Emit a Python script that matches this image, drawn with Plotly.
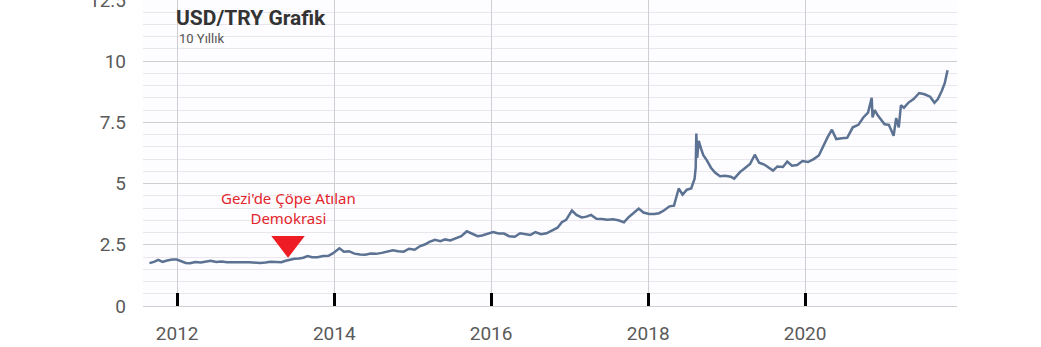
import plotly.graph_objects as go

dates = [
    "2011-08-25", "2011-09-15", "2011-10-05", "2011-10-25", "2011-11-15", "2011-12-10", "2011-12-30",
    "2012-01-20", "2012-02-10", "2012-03-01", "2012-03-25", "2012-04-20", "2012-05-15", "2012-06-05",
    "2012-07-01", "2012-07-25", "2012-08-20", "2012-09-15", "2012-10-10", "2012-11-05", "2012-12-01",
    "2012-12-25", "2013-01-20", "2013-02-15", "2013-03-10", "2013-04-05", "2013-04-30", "2013-05-20",
    "2013-06-10", "2013-06-30", "2013-07-20", "2013-08-10", "2013-08-30", "2013-09-20", "2013-10-15",
    "2013-11-10", "2013-12-05", "2013-12-25", "2014-01-25", "2014-02-15", "2014-03-10", "2014-04-05",
    "2014-05-01", "2014-05-25", "2014-06-20", "2014-07-15", "2014-08-10", "2014-09-05", "2014-10-01",
    "2014-10-25", "2014-11-20", "2014-12-15", "2015-01-10", "2015-02-05", "2015-03-01", "2015-03-20",
    "2015-04-15", "2015-05-10", "2015-06-01", "2015-06-25", "2015-07-20", "2015-08-15", "2015-09-10",
    "2015-10-05", "2015-10-30", "2015-11-20", "2015-12-15", "2016-01-10", "2016-02-05", "2016-03-01",
    "2016-03-25", "2016-04-20", "2016-05-15", "2016-06-10", "2016-07-01", "2016-07-25", "2016-08-20",
    "2016-09-15", "2016-10-10", "2016-11-05", "2016-11-25", "2016-12-15", "2017-01-11", "2017-02-01",
    "2017-02-25", "2017-03-20", "2017-04-10", "2017-05-05", "2017-05-30", "2017-06-25", "2017-07-20",
    "2017-08-15", "2017-09-10", "2017-10-01", "2017-10-25", "2017-11-18", "2017-12-10", "2018-01-05",
    "2018-01-30", "2018-02-20", "2018-03-15", "2018-04-10", "2018-05-01", "2018-05-23", "2018-06-10",
    "2018-06-30", "2018-07-20", "2018-08-05", "2018-08-10", "2018-08-13", "2018-08-17", "2018-08-24",
    "2018-09-05", "2018-09-15", "2018-10-01", "2018-10-20", "2018-11-08", "2018-12-01", "2018-12-25",
    "2019-01-20", "2019-02-05", "2019-03-05", "2019-03-25", "2019-04-20", "2019-05-12", "2019-06-01",
    "2019-06-25", "2019-07-15", "2019-08-05", "2019-08-25", "2019-09-20", "2019-10-10", "2019-11-01",
    "2019-11-25", "2019-12-20", "2020-01-15", "2020-02-10", "2020-03-05", "2020-03-25", "2020-04-15",
    "2020-05-05", "2020-05-25", "2020-06-20", "2020-07-15", "2020-08-10", "2020-09-05", "2020-09-28",
    "2020-10-20", "2020-11-06", "2020-11-10", "2020-11-20", "2020-12-05", "2021-01-05", "2021-01-25",
    "2021-02-16", "2021-02-28", "2021-03-12", "2021-03-22", "2021-04-05", "2021-04-25", "2021-05-20",
    "2021-06-15", "2021-07-10", "2021-08-05", "2021-08-25", "2021-09-10", "2021-09-28", "2021-10-12",
    "2021-10-25",
]

usd_try = [
    1.75, 1.80, 1.88, 1.80, 1.86, 1.90, 1.90,
    1.83, 1.76, 1.75, 1.80, 1.78, 1.83, 1.85,
    1.80, 1.82, 1.79, 1.80, 1.80, 1.79, 1.79,
    1.78, 1.76, 1.78, 1.81, 1.80, 1.79, 1.85,
    1.90, 1.93, 1.94, 1.97, 2.04, 1.99, 1.99,
    2.04, 2.05, 2.15, 2.36, 2.22, 2.24, 2.14,
    2.10, 2.09, 2.14, 2.13, 2.17, 2.22, 2.28,
    2.24, 2.22, 2.34, 2.30, 2.45, 2.52, 2.62,
    2.70, 2.65, 2.72, 2.68, 2.75, 2.85, 3.05,
    2.95, 2.85, 2.88, 2.95, 3.02, 2.96, 2.96,
    2.85, 2.83, 2.97, 2.92, 2.90, 3.02, 2.93,
    2.97, 3.10, 3.20, 3.42, 3.52, 3.90, 3.72,
    3.62, 3.65, 3.72, 3.56, 3.55, 3.52, 3.54,
    3.50, 3.42, 3.62, 3.80, 3.98, 3.82, 3.76,
    3.76, 3.79, 3.90, 4.07, 4.10, 4.80, 4.55,
    4.75, 4.80, 5.20, 5.65, 7.05, 6.05, 6.75,
    6.40, 6.15, 5.95, 5.65, 5.45, 5.30, 5.32,
    5.28, 5.20, 5.48, 5.62, 5.80, 6.18, 5.85,
    5.78, 5.65, 5.53, 5.70, 5.68, 5.90, 5.73,
    5.76, 5.92, 5.88, 6.00, 6.15, 6.55, 6.90,
    7.20, 6.82, 6.85, 6.87, 7.30, 7.40, 7.70,
    7.90, 8.50, 7.70, 8.00, 7.78, 7.42, 7.40,
    6.95, 7.68, 7.30, 8.20, 8.10, 8.30, 8.45,
    8.70, 8.65, 8.55, 8.30, 8.45, 8.78, 9.10,
    9.63,
]

event_date = ["2013-05-31"]
event_marker_level = [2.56]
event_label = "Gezi'de Çöpe Atılan<br>Demokrasi"

x_ticks = ["2012-01-01", "2014-01-01", "2016-01-01", "2018-01-01", "2020-01-01"]
x_tick_labels = ["2012", "2014", "2016", "2018", "2020"]
y_ticks = [0, 2.5, 5, 7.5, 10, 12.5]
y_tick_labels = ["0", "2.5", "5", "7.5", "10", "12.5"]

title_text = "<b>USD/TRY Grafik</b>"
subtitle_text = "10 Yıllık"

fig = go.Figure()
fig.add_trace(go.Scatter(
    x=dates, y=usd_try, mode="lines",
    line=dict(color="#5b7292", width=2.5),
    hoverinfo="x+y", showlegend=False,
))
fig.add_trace(go.Scatter(
    x=event_date, y=event_marker_level, mode="markers",
    marker=dict(symbol="triangle-down", size=29, color="#ee1c25", line=dict(width=0)),
    hoverinfo="skip", showlegend=False,
))

fig.add_annotation(
    x=event_date[0], y=event_marker_level[0], xref="x", yref="y",
    text=event_label, showarrow=False, yanchor="bottom", yshift=13,
    font=dict(family="Noto Sans", size=15, color="#e3242b"),
    align="center",
)
fig.add_annotation(
    x=0.038, y=0.941, xref="paper", yref="paper", xanchor="left", yanchor="middle",
    text=title_text, showarrow=False,
    font=dict(family="Roboto", size=21, color="#333333"),
)
fig.add_annotation(
    x=0.042, y=0.874, xref="paper", yref="paper", xanchor="left", yanchor="middle",
    text=subtitle_text, showarrow=False,
    font=dict(family="Roboto", size=13, color="#555555"),
)

fig.update_layout(
    width=1041, height=347,
    margin=dict(l=143, r=84, t=0, b=41, autoexpand=False),
    paper_bgcolor="white",
    plot_bgcolor="#fdfcfe",
    font=dict(family="Roboto", color="#5a5a5a"),
    xaxis=dict(
        range=["2011-07-26", "2021-12-08"],
        tickvals=x_ticks, ticktext=x_tick_labels,
        ticks="inside", ticklen=13, tickwidth=3, tickcolor="black",
        showgrid=True, gridcolor="#cfcfd3", gridwidth=1,
        showline=True, linecolor="#cfcfd3", linewidth=1,
        tickfont=dict(family="Roboto", size=19, color="#5a5a5a"),
        ticklabelstandoff=10,
        zeroline=False, automargin=False,
    ),
    yaxis=dict(
        range=[0, 12.5],
        tickvals=y_ticks, ticktext=y_tick_labels,
        showgrid=True, gridcolor="#cfcfd3", gridwidth=1,
        minor=dict(dtick=0.5, showgrid=True, gridcolor="#ebe5ee", gridwidth=1),
        zeroline=False, showline=False, ticks="",
        tickfont=dict(family="Roboto", size=19, color="#5a5a5a"),
        ticklabelstandoff=16,
        ticklabeloverflow="allow",
        automargin=False,
    ),
)

fig.write_html("out.html")
